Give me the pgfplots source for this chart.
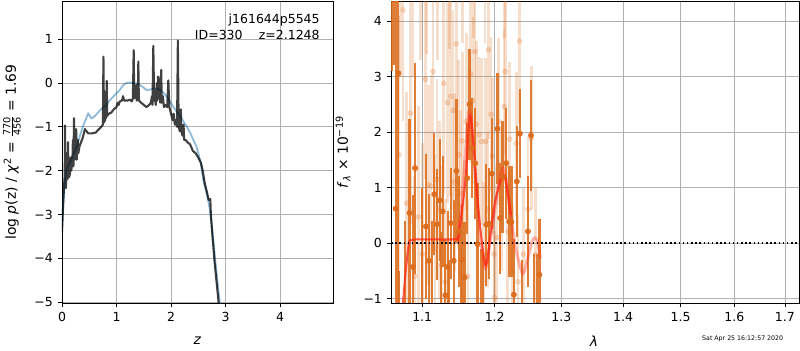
\documentclass[border=0pt]{standalone}
\usepackage{fontspec}
\setmainfont{DejaVu Sans}
\usepackage{pgfplots}
\pgfplotsset{compat=1.18}
\usepackage{pgfplotstable}

\definecolor{pzblue}{RGB}{31,119,180}
\definecolor{dkorange}{RGB}{220,108,28}
\definecolor{modred}{RGB}{255,40,20}
\definecolor{gridgray}{RGB}{176,176,176}

\pgfplotstableread{
z v
0.00 -3.3
0.02 -2.8
0.05 -2.25
0.09 -1.95
0.15 -1.8
0.22 -1.6
0.28 -1.42
0.33 -1.2
0.38 -1.0
0.43 -0.85
0.48 -0.69
0.54 -0.81
0.60 -0.76
0.70 -0.62
0.80 -0.52
0.88 -0.39
0.97 -0.27
1.06 -0.16
1.12 -0.05
1.18 0.0
1.25 0.01
1.32 0.0
1.40 -0.03
1.47 -0.08
1.55 -0.16
1.62 -0.15
1.68 -0.12
1.75 -0.13
1.80 -0.16
1.86 -0.22
1.92 -0.31
1.98 -0.42
2.04 -0.54
2.10 -0.65
2.17 -0.77
2.23 -0.88
2.29 -1.0
2.35 -1.13
2.41 -1.30
2.46 -1.43
2.50 -1.6
2.55 -1.85
2.59 -2.21
2.64 -2.45
2.68 -2.67
2.72 -2.95
2.75 -3.28
2.78 -3.65
2.81 -4.04
2.85 -4.5
2.90 -5.1
}\bluetab

\pgfplotstableread{
z v
0.00 -3.4
0.02 -2.8
0.04 -2.3
0.05 -2.1
0.055 -0.97
0.06 -2.0
0.07 -2.4
0.08 -2.15
0.09 -1.6
0.10 -2.2
0.11 -1.35
0.12 -2.1
0.13 -2.15
0.15 -2.05
0.16 -1.7
0.17 -2.0
0.19 -1.8
0.20 -1.3
0.21 -1.9
0.22 -0.8
0.23 -1.75
0.24 -1.1
0.25 -1.6
0.26 -1.05
0.27 -1.75
0.29 -1.3
0.30 -1.6
0.32 -1.45
0.35 -1.35
0.38 -1.25
0.40 -1.15
0.42 -1.05
0.45 -1.1
0.48 -1.15
0.55 -1.15
0.62 -1.13
0.68 -1.05
0.72 -1.0
0.75 -0.95
0.76 0.6
0.77 -0.9
0.79 -0.85
0.80 -0.2
0.81 -0.8
0.82 0.05
0.83 -0.75
0.86 -0.7
0.90 -0.68
0.95 -0.6
1.00 -0.55
1.02 -0.45
1.04 -0.5
1.06 -0.42
1.10 -0.4
1.12 -0.3
1.14 -0.4
1.20 -0.4
1.25 -0.38
1.28 -0.42
1.30 -0.35
1.315 0.75
1.325 -0.35
1.34 -0.3
1.36 -0.05
1.37 -0.4
1.39 -0.35
1.40 0.49
1.41 -0.4
1.45 -0.45
1.50 -0.5
1.55 -0.55
1.60 -0.5
1.63 -0.45
1.65 -0.3
1.66 -0.5
1.675 0.85
1.69 -0.4
1.70 -0.25
1.72 -0.5
1.74 0.0
1.75 -0.4
1.76 0.15
1.77 -0.35
1.79 0.1
1.80 -0.45
1.82 0.3
1.83 -0.45
1.85 -0.3
1.87 -0.55
1.90 -0.5
1.93 -0.55
1.95 0.06
1.97 -0.55
2.00 -0.7
2.03 -0.85
2.05 -0.7
2.07 -0.95
2.09 -0.85
2.11 -1.0
2.125 0.97
2.14 -1.0
2.16 -1.1
2.18 -0.6
2.19 -1.1
2.21 -1.2
2.23 -0.95
2.24 -1.3
2.27 -1.3
2.30 -1.35
2.35 -1.4
2.40 -1.55
2.45 -1.6
2.50 -1.7
2.55 -1.83
2.58 -2.0
2.62 -2.3
2.66 -2.5
2.69 -2.67
2.72 -2.65
2.73 -3.0
2.76 -3.5
2.80 -4.1
2.84 -4.6
2.88 -5.1
}\darktab

\pgfplotstableread{
x y e
1.0698 1.59 2.5
1.0720 5.0 2.0
1.0750 4.2 2.0
1.0798 0.72 2.0
1.0846 2.34 2.0
1.0880 5.5 2.5
1.0900 -0.6 1.8
1.0951 0.47 2.0
1.0980 4.8 1.5
1.1000 -0.2 2.0
1.1044 2.95 1.8
1.1060 5.2 1.8
1.1080 1.05 1.8
1.1116 1.03 2.0
1.1143 3.09 2.0
1.1170 -0.1 1.7
1.1197 1.15 1.8
1.1200 4.8 1.5
1.1230 0.6 1.6
1.1260 -0.4 1.8
1.1287 2.88 2.0
1.1310 -0.7 1.5
1.1342 2.53 1.8
1.1370 5.0 1.5
1.1383 2.64 1.8
1.1415 2.39 1.8
1.1440 1.1 1.6
1.1457 3.59 1.8
1.1494 1.59 1.7
1.1520 0.9 1.5
1.1540 1.84 1.6
1.1550 4.8 1.2
1.1570 0.0 1.5
1.1596 2.19 1.6
1.1620 -0.6 1.4
1.1657 3.05 1.6
1.1690 2.57 1.5
1.1700 5.2 1.5
1.1718 3.45 1.7
1.1737 2.14 1.5
1.1775 1.95 1.4
1.1808 1.83 1.5
1.1840 -0.2 1.3
1.1860 4.8 1.2
1.1870 1.83 1.5
1.1900 0.6 1.4
1.1908 3.48 1.6
1.1947 2.32 1.4
1.1966 1.57 1.4
1.1990 -0.2 1.4
1.2000 -0.98 1.2
1.2030 0.1 1.3
1.2058 2.19 1.5
1.2100 0.8 1.3
1.2136 2.46 1.4
1.2140 4.9 1.2
1.2151 3.09 1.5
1.2190 0.2 1.3
1.2219 1.87 1.4
1.2260 -0.5 1.2
1.2312 1.79 1.3
1.2340 -0.7 1.2
1.2362 3.64 1.5
1.2420 -0.2 1.2
1.2488 0.61 1.3
1.2538 1.89 1.3
1.2600 -0.2 1.2
}\lighttab

\pgfplotstableread{
x y e
1.0610 6.0 2.9
1.0630 7.0 3.8
1.0656 0.62 4.5
1.0690 3.06 4.5
1.0700 -2.0 1.5
1.0780 -1.8 2.2
1.0833 0.54 1.7
1.0877 -0.43 1.3
1.0907 1.35 1.9
1.1000 -1.5 2.5
1.1049 0.30 1.3
1.1089 -0.32 1.2
1.1130 -1.6 2.0
1.1161 0.88 1.1
1.1197 0.34 1.0
1.1233 0.77 1.1
1.1250 -1.3 1.5
1.1274 0.57 1.0
1.1310 -0.94 1.0
1.1342 -0.43 1.0
1.1360 -1.5 1.2
1.1383 0.36 1.0
1.1425 -0.32 1.1
1.1462 1.30 1.3
1.1494 0.21 1.0
1.1520 -1.4 1.6
1.1540 -0.30 1.0
1.1573 -0.62 1.0
1.1610 1.17 1.0
1.1643 2.50 1.0
1.1676 1.71 0.9
1.1723 1.44 1.0
1.1756 -0.02 1.1
1.1800 -1.3 1.2
1.1830 -1.5 1.3
1.1880 0.33 1.1
1.1923 0.35 1.0
1.1957 1.25 1.0
1.2039 2.06 1.0
1.2078 0.45 1.0
1.2112 1.19 1.0
1.2166 1.44 1.0
1.2210 0.39 1.0
1.2244 0.38 1.0
1.2279 -0.93 1.0
1.2323 1.11 1.0
1.2368 1.97 0.8
1.2400 -1.3 1.0
1.2488 0.21 1.0
1.2534 1.94 1.0
1.2580 -1.4 1.2
1.2620 -1.2 1.0
1.2661 -0.57 1.0
}\darkpts

\pgfplotsset{
  myax/.style={
    scale only axis,
    axis line style={line width=0.6pt},
    grid=major,
    grid style={color=gridgray, line width=0.6pt},
    tick align=outside,
    major tick length=3pt,
    tick style={black, line width=0.6pt},
    tick pos=left,
    ticklabel style={font=\fontsize{9}{10}\selectfont},
    label style={font=\fontsize{10}{11}\selectfont},
    clip=true,
  }
}

\begin{document}
\begin{tikzpicture}
\path[use as bounding box] (0,0) rectangle (576pt,252pt);

\begin{axis}[myax,
  at={(44.64pt,33.84pt)}, anchor=south west,
  width=195.1pt, height=217.4pt,
  xmin=0, xmax=4.97, ymin=-5.02, ymax=1.87,
  xtick={0,1,2,3,4}, xticklabels={0,1,2,3,4},
  ytick={-5,-4,-3,-2,-1,0,1},
  yticklabels={−5,−4,−3,−2,−1,0,1},
  xlabel={\textit{z}},
  xlabel style={at={(axis description cs:0.5,-0.126)}, anchor=center},
  ylabel={log \textit{p}(z) / \textit{χ}\textsuperscript{2} = $\frac{\mbox{\fontsize{7}{7}\selectfont 770}}{\mbox{\fontsize{7}{7}\selectfont 456}}$ = 1.69},
  ylabel style={at={(axis description cs:-0.1845,0.5)}, anchor=center},
]
\addplot[pzblue, opacity=0.5, line width=1.3pt, line join=round] table[x=z,y=v] {\bluetab};
\addplot[black, opacity=0.75, line width=1.5pt, line join=round] table[x=z,y=v] {\darktab};
\node[anchor=east, font=\fontsize{9}{10}\selectfont] at (rel axis cs:0.969,0.937) {j161644p5545};
\node[anchor=east, font=\fontsize{9}{10}\selectfont] at (rel axis cs:0.969,0.887) {ID=330\hspace{1.3em}z=2.1248};
\end{axis}

\begin{axis}[myax,
  at={(281.52pt,33.84pt)}, anchor=south west,
  width=293.8pt, height=217.4pt,
  xmode=log,
  xmin=1.0596, xmax=1.729, ymin=-1.08, ymax=4.36,
  xtick={1.1,1.2,1.3,1.4,1.5,1.6,1.7},
  xticklabels={1.1,1.2,1.3,1.4,1.5,1.6,1.7},
  minor xtick={}, minor x tick num=0,
  ytick={-1,0,1,2,3,4},
  yticklabels={−1,0,1,2,3,4},
  xlabel={\textit{λ}},
  xlabel style={at={(axis description cs:0.4975,-0.126)}, anchor=center},
  ylabel={\textit{f}\textsubscript{\textit{λ}} × 10\textsuperscript{−19}},
  ylabel style={at={(axis description cs:-0.1176,0.5)}, anchor=center},
]
\addplot[only marks, mark=*, mark size=1.8pt, dkorange, opacity=0.22,
  mark options={draw=none, fill=dkorange, opacity=0.22},
  error bars/.cd, y dir=both, y explicit, error mark=none,
  error bar style={line width=2pt, dkorange, opacity=0.22}]
  table[x=x, y=y, y error=e] {\lighttab};
\addplot[only marks, mark=*, mark size=1.9pt, dkorange, opacity=0.88,
  mark options={draw=none, fill=dkorange, opacity=0.95},
  error bars/.cd, y dir=both, y explicit, error mark=none,
  error bar style={line width=1.6pt, dkorange, opacity=0.88}]
  table[x=x, y=y, y error=e] {\darkpts};
\addplot[modred, opacity=0.35, line width=2.2pt, smooth, tension=0.5] coordinates {
  (1.1475,0.05) (1.153,0.6) (1.158,1.5) (1.163,2.35) (1.167,2.2) (1.172,1.3)
  (1.178,0.3) (1.186,-0.45) (1.192,-0.1) (1.2,0.6) (1.207,1.15) (1.212,1.35)
  (1.217,1.1) (1.2236,0.45) (1.2308,-0.1) (1.2409,-0.55) (1.2483,-0.28)
  (1.2558,0.05) (1.2625,0.065) (1.2676,-0.28)};
\addplot[modred, opacity=0.75, line width=1.5pt, smooth, tension=0.5] coordinates {
  (1.072,-1.3) (1.075,-1.06) (1.0785,-0.5) (1.0825,-0.01) (1.086,0.055)
  (1.09,0.065) (1.10,0.065) (1.12,0.065) (1.14,0.065) (1.1475,0.08)
  (1.1493,0.14) (1.1587,1.15) (1.1647,2.29) (1.1704,1.69) (1.1775,0.5)
  (1.1870,-0.40) (1.1942,0.2) (1.2015,0.8) (1.2113,1.21) (1.2161,1.12)
  (1.2236,0.5)};
\addplot[black, line width=1.1pt, dash pattern=on 1.1pt off 1.9pt] coordinates {(1.0596,0) (1.729,0)};
\end{axis}

\node[anchor=east, font=\fontsize{4.5}{5}\selectfont] at (567.4pt,7.7pt) {Sat Apr 25 16:12:57 2020};
\end{tikzpicture}
\end{document}
